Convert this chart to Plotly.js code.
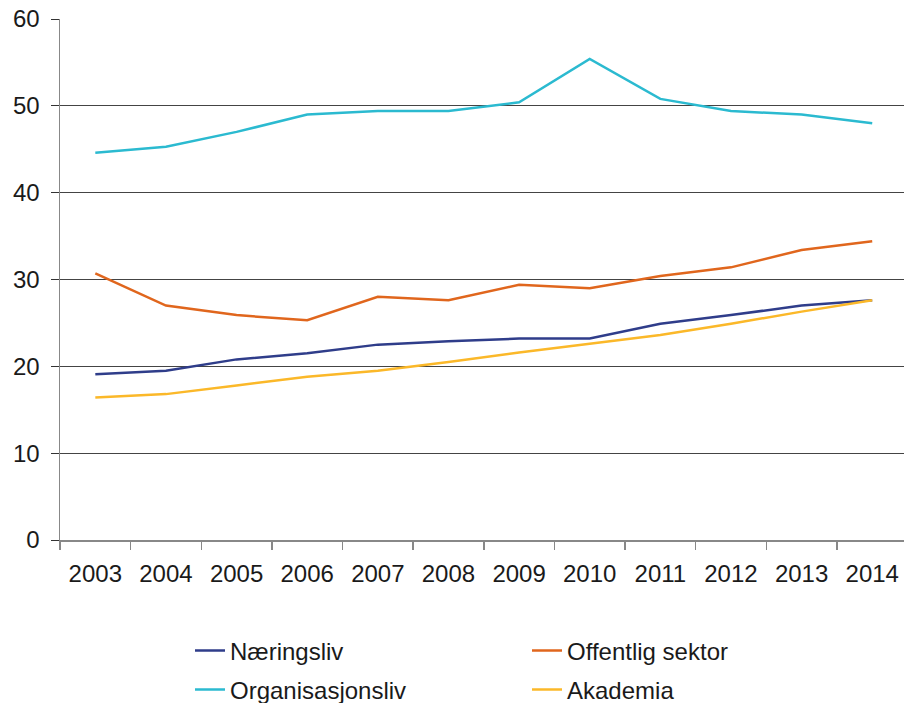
<!DOCTYPE html>
<html>
<head>
<meta charset="utf-8">
<script src="https://cdn.plot.ly/plotly-3.0.1.min.js"></script>
<style>
  html, body { margin: 0; padding: 0; background: #fff; }
  #plot { width: 905px; height: 703px; }
</style>
</head>
<body>
<div id="plot"></div>
<script>
// År på x-aksen
const years = ["2003", "2004", "2005", "2006", "2007", "2008", "2009", "2010", "2011", "2012", "2013", "2014"];

// Verdier lest av figuren
const naeringsliv = [19.1, 19.5, 20.8, 21.5, 22.5, 22.9, 23.2, 23.2, 24.9, 25.9, 27.0, 27.6];
const offentlig = [30.7, 27.0, 25.9, 25.3, 28.0, 27.6, 29.4, 29.0, 30.4, 31.4, 33.4, 34.4];
const organisasjon = [44.6, 45.3, 47.0, 49.0, 49.4, 49.4, 50.4, 55.4, 50.8, 49.4, 49.0, 48.0];
const akademia = [16.4, 16.8, 17.8, 18.8, 19.5, 20.5, 21.6, 22.6, 23.6, 24.9, 26.3, 27.6];

const yTicks = [0, 10, 20, 30, 40, 50, 60];

const font = "Liberation Sans, Arial, sans-serif";

function serie(navn, y, farge, legend) {
  return {
    x: years,
    y: y,
    name: navn,
    type: "scatter",
    mode: "lines",
    line: { color: farge, width: 2.5 },
    legend: legend,
  };
}

const traces = [
  serie("Næringsliv", naeringsliv, "#2f3d8a", "legend"),
  serie("Offentlig sektor", offentlig, "#e0661d", "legend"),
  serie("Organisasjonsliv", organisasjon, "#2bbad0", "legend2"),
  serie("Akademia", akademia, "#fbb829", "legend2"),
];

const legendBase = {
  orientation: "h",
  xref: "container",
  yref: "container",
  xanchor: "left",
  yanchor: "middle",
  x: 190 / 905,
  entrywidth: 292,
  entrywidthmode: "pixels",
  font: { family: font, size: 24, color: "#1a1a1a" },
  bgcolor: "rgba(0,0,0,0)",
};

const layout = {
  width: 905,
  height: 703,
  margin: { l: 60, r: 1, t: 19, b: 163 },
  paper_bgcolor: "#fff",
  plot_bgcolor: "#fff",
  font: { family: font, size: 24, color: "#1a1a1a" },
  showlegend: true,
  legend: Object.assign({}, legendBase, { y: 1 - 651 / 703 }),
  legend2: Object.assign({}, legendBase, { y: 1 - 690 / 703 }),
  xaxis: {
    type: "category",
    range: [-0.5, 11.45],
    showline: true,
    linecolor: "#888",
    linewidth: 1.5,
    ticks: "outside",
    tickson: "boundaries",
    ticklen: 8,
    tickcolor: "#888",
    tickwidth: 1.5,
    showgrid: false,
    tickfont: { family: font, size: 24, color: "#1a1a1a" },
    ticklabelstandoff: 12,
    fixedrange: true,
  },
  yaxis: {
    range: [0, 60],
    tickvals: yTicks,
    showline: true,
    linecolor: "#888",
    linewidth: 1.5,
    ticks: "outside",
    ticklen: 8,
    tickcolor: "#333",
    showgrid: true,
    gridcolor: "#444",
    gridwidth: 1,
    zeroline: false,
    tickfont: { family: font, size: 24, color: "#1a1a1a" },
    ticklabelstandoff: 6,
    fixedrange: true,
  },
};

Plotly.newPlot("plot", traces, layout, { displayModeBar: false, staticPlot: true });
</script>
</body>
</html>
